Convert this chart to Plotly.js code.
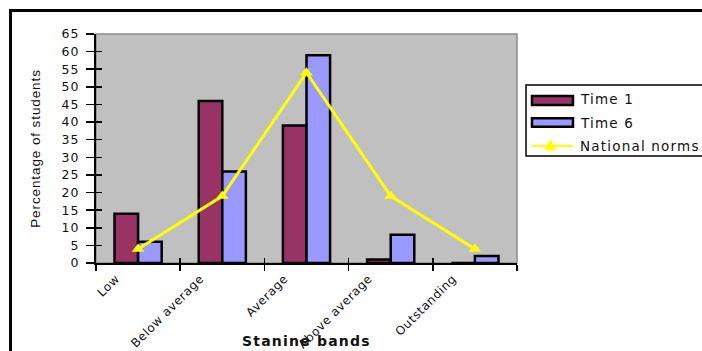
<!DOCTYPE html>
<html>
<head>
<meta charset="utf-8">
<script src="https://cdn.plot.ly/plotly-3.0.1.min.js"></script>
<style>
  html, body { margin: 0; padding: 0; background: #ffffff; }
  #chart { width: 702px; height: 351px; }
  /* wide, airy lettering (global so that text measurement sees it too) */
  .annotation-text { letter-spacing: 1.2px; }
  .xtick text { letter-spacing: 0.6px; }
  .ytick text { letter-spacing: 1px; }
  .ytitle { letter-spacing: 0.9px; }
</style>
</head>
<body>
<div id="chart"></div>
<script>
// Stanine bands and percentage of students in each band
const bands = ["Low", "Below average", "Average", "Above average", "Outstanding"];
const time1 = [14, 46, 39, 1, 0];
const time6 = [6, 26, 59, 8, 2];
const nationalNorms = [4, 19, 54, 19, 4];

const seriesNames = ["Time 1", "Time 6", "National norms"];
const colTime1 = "#993366";
const colTime6 = "#9999ff";
const colNorms = "#ffff00";

const yTicks = [0, 5, 10, 15, 20, 25, 30, 35, 40, 45, 50, 55, 60, 65];

const traces = [
  {
    type: "bar", name: seriesNames[0], x: bands, y: time1,
    marker: { color: colTime1, line: { color: "#000000", width: 2.5 } },
    hoverinfo: "skip"
  },
  {
    type: "bar", name: seriesNames[1], x: bands, y: time6,
    marker: { color: colTime6, line: { color: "#000000", width: 2.5 } },
    hoverinfo: "skip"
  },
  {
    type: "scatter", mode: "lines+markers", name: seriesNames[2], x: bands, y: nationalNorms,
    line: { color: colNorms, width: 3 },
    marker: { symbol: "triangle-up", size: 11, color: colNorms },
    hoverinfo: "skip"
  },
  // empty trace that carries the overlay axes used for the inner half of the tick marks
  { type: "scatter", x: [], y: [], xaxis: "x2", yaxis: "y2", hoverinfo: "skip" }
];

// legend drawn as shapes + text to the right of the plot area (box runs off the right edge)
const legendShapes = [
  { type: "path", xref: "paper", yref: "paper",
    path: "M 1.7 0.777 L 1.0214 0.777 L 1.0214 0.467 L 1.7 0.467",
    line: { color: "#000000", width: 1.5 } },
  { type: "rect", xref: "paper", yref: "paper", x0: 1.0356, x1: 1.1330, y0: 0.6900, y1: 0.7290,
    line: { color: "#000000", width: 2.5 }, fillcolor: colTime1 },
  { type: "rect", xref: "paper", yref: "paper", x0: 1.0356, x1: 1.1330, y0: 0.5953, y1: 0.6319,
    line: { color: "#000000", width: 2.5 }, fillcolor: colTime6 },
  { type: "line", xref: "paper", yref: "paper", x0: 1.0356, x1: 1.1330, y0: 0.5109, y1: 0.5109,
    line: { color: colNorms, width: 2 } },
  { type: "path", xref: "paper", yref: "paper",
    path: "M 1.0796 0.5370 L 1.0665 0.4934 L 1.0926 0.4934 Z",
    line: { color: colNorms, width: 1 }, fillcolor: colNorms }
];

const legendText = seriesNames.map((name, i) => ({
  xref: "paper", yref: "paper", x: 1.1449, y: [0.7148, 0.6127, 0.5109][i],
  xanchor: "left", yanchor: "middle", text: name, showarrow: false,
  font: { family: "DejaVu Sans", size: 13.5, color: "#111111" }
}));

const frameShapes = [
  // outer frame (left and top edges)
  { type: "path", xref: "paper", yref: "paper",
    path: "M -0.2030 -0.5 L -0.2030 1.1026 L 1.7 1.1026",
    line: { color: "#000000", width: 3 } },
  // plot area outline
  { type: "rect", xref: "paper", yref: "paper", x0: 0, x1: 1, y0: 0, y1: 1,
    line: { color: "#8a8a8a", width: 1.5 }, layer: "below" }
];

const layout = {
  width: 702, height: 351,
  margin: { l: 96, r: 185, t: 34, b: 88 },
  paper_bgcolor: "#ffffff",
  plot_bgcolor: "#c0c0c0",
  showlegend: false,
  barmode: "group",
  bargap: 0.44,
  bargroupgap: 0,
  font: { family: "DejaVu Sans", color: "#111111" },
  xaxis: {
    type: "category",
    tickson: "boundaries",
    ticks: "outside", ticklen: 6, tickwidth: 1.5, tickcolor: "#000000",
    showline: true, linecolor: "#000000", linewidth: 2,
    showgrid: false, zeroline: false,
    tickangle: -45,
    ticklabelshift: -22,
    ticklabelstandoff: 2,
    tickfont: { family: "DejaVu Sans", size: 12, color: "#111111" },
    fixedrange: true
  },
  yaxis: {
    range: [0, 65],
    tickvals: yTicks,
    ticks: "outside", ticklen: 8, tickwidth: 1.5, tickcolor: "#000000",
    showline: true, linecolor: "#000000", linewidth: 2,
    showgrid: false, zeroline: false,
    ticklabelstandoff: 4,
    tickfont: { family: "DejaVu Sans", size: 12.5, color: "#111111" },
    title: { text: "Percentage of students", standoff: 18,
             font: { family: "Liberation Sans", size: 13.5, color: "#111111" } },
    fixedrange: true
  },
  xaxis2: {
    overlaying: "x", anchor: "y2", side: "bottom",
    range: [-0.5, 4.5], tickvals: [-0.5, 0.5, 1.5, 2.5, 3.5, 4.5],
    ticks: "inside", ticklen: 5, tickwidth: 1.5, tickcolor: "#000000",
    showticklabels: false, showgrid: false, zeroline: false, showline: false,
    fixedrange: true
  },
  yaxis2: {
    overlaying: "y", anchor: "x2", side: "left",
    range: [0, 65], tickvals: yTicks,
    ticks: "inside", ticklen: 6, tickwidth: 1.5, tickcolor: "#000000",
    showticklabels: false, showgrid: false, zeroline: false, showline: false,
    fixedrange: true
  },
  shapes: frameShapes.concat(legendShapes),
  annotations: legendText.concat([
    { xref: "paper", yref: "paper", x: 0.5, y: -0.3406, xanchor: "center", yanchor: "middle",
      text: "<b>Stanine bands</b>", showarrow: false,
      font: { family: "DejaVu Sans", size: 14, color: "#111111" } }
  ])
};

Plotly.newPlot("chart", traces, layout, { displayModeBar: false, staticPlot: true });
</script>
</body>
</html>
